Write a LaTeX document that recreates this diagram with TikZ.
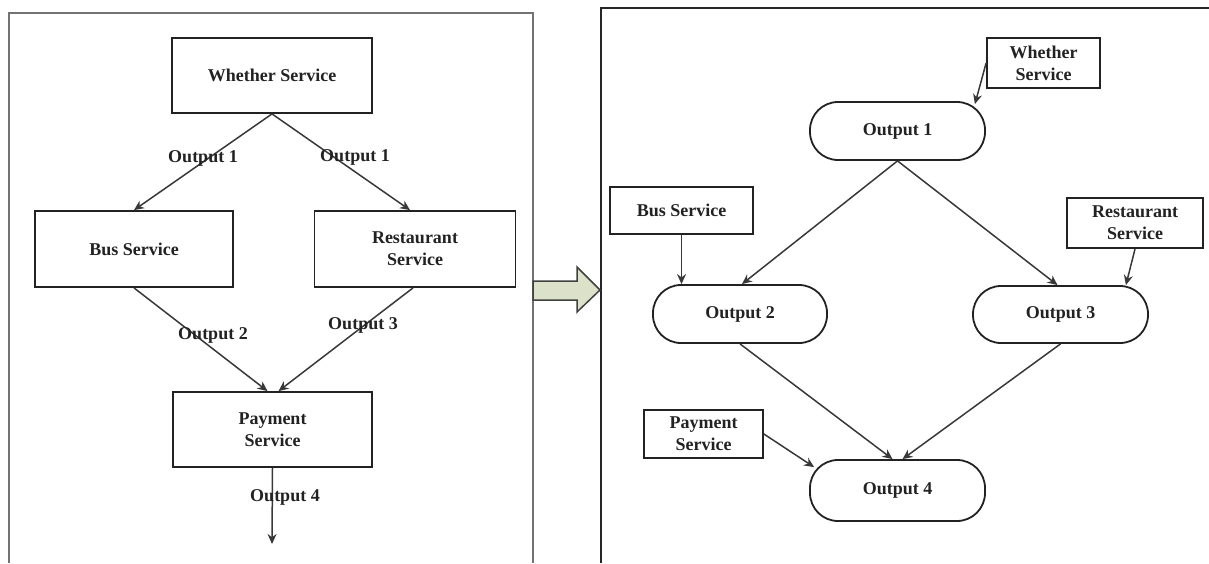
\documentclass[tikz,border=0pt]{standalone}
\usepackage{fontspec}
\setmainfont{Liberation Serif}
\usetikzlibrary{arrows.meta}
\definecolor{ink}{HTML}{222222}
\definecolor{arrowfill}{HTML}{DCE1C9}
\tikzset{
  box/.style={draw=ink, line width=1.8pt, rectangle, align=center, inner sep=0pt,
    font=\fontsize{18}{22}\selectfont\bfseries, text=ink},
  outbox/.style={box, rounded corners=28pt, minimum width=175pt},
  lbl/.style={font=\fontsize{18}{22}\selectfont\bfseries, text=ink, inner sep=0pt},
  conn/.style={draw=ink!90, line width=1.5pt, -{Stealth[length=10pt,width=9pt]}},
}
\begin{document}
\begin{tikzpicture}[x=1pt,y=-1pt]
\useasboundingbox (0,0) rectangle (1209,563);
% panels
\draw[black!55, line width=2pt] (9,563) -- (9,12.7) -- (533,12.7) -- (533,563);
\draw[black!85, line width=2pt] (601,563) -- (601,8) -- (1209,8);
% big arrow
\draw[fill=arrowfill, draw=black!75, line width=1.5pt, line join=miter]
  (533,281) -- (577,281) -- (577,267) -- (600,290) -- (577,312) -- (577,300) -- (533,300) -- cycle;

% left diagram
\node[box, minimum width=200pt, minimum height=75pt] (lw) at (272,75.5) {Whether Service};
\node[box, minimum width=198pt, minimum height=76pt] (lb) at (134,249) {Bus Service};
\node[box, minimum width=201pt, minimum height=76pt] (lr) at (415,249) {Restaurant\\Service};
\node[box, minimum width=199pt, minimum height=75pt] (lp) at (272.5,429.5) {Payment\\Service};
\coordinate (lend) at (272,544);
\draw[conn] (lw.south) -- (lb.north);
\draw[conn] (lw.south) -- ([xshift=-5pt]lr.north);
\draw[conn] (lb.south) -- ([xshift=-5pt]lp.north);
\draw[conn] ([xshift=-2pt]lr.south) -- ([xshift=6pt]lp.north);
\draw[conn] (lp.south) -- (lend);
\node[lbl] (lo1a) at (203,158) {Output 1};
\node[lbl] (lo1b) at (355,157) {Output 1};
\node[lbl] (lo2) at (213,335) {Output 2};
\node[lbl] (lo3) at (363,325) {Output 3};
\node[lbl] (lo4) at (285,497) {Output 4};

% right diagram
\node[box, minimum width=113pt, minimum height=50pt] (rw) at (1043.5,63) {Whether\\Service};
\node[outbox, minimum height=58pt] (o1) at (897.5,131) {Output 1};
\node[box, minimum width=143pt, minimum height=47pt] (rb) at (681.5,210.5) {Bus Service};
\node[box, minimum width=136pt, minimum height=50pt] (rr) at (1135,223) {Restaurant\\Service};
\node[outbox, minimum width=174pt, minimum height=58pt] (o2) at (740,314) {Output 2};
\node[outbox, minimum height=57pt] (o3) at (1060.5,314.5) {Output 3};
\node[box, minimum width=119pt, minimum height=48pt] (rp) at (703.5,434) {Payment\\Service};
\node[outbox, minimum height=61pt] (o4) at (897.5,490.5) {Output 4};

\draw[conn] (rw.west) -- ([xshift=-11pt,yshift=-3pt]o1.north east);
\draw[conn] (o1.south) -- ([xshift=2pt]o2.north);
\draw[conn] (o1.south) -- ([xshift=-3pt]o3.north);
\draw[conn] (rb.south) -- (rb.south |- o2.north);
\draw[conn] (rr.south) -- ([xshift=-23pt]o3.north east);
\draw[conn] (o2.south) -- ([xshift=-5pt]o4.north);
\draw[conn] (o3.south) -- ([xshift=5pt]o4.north);
\draw[conn] (rp.east) -- ([xshift=5pt,yshift=-8pt]o4.north west);
\end{tikzpicture}
\end{document}
